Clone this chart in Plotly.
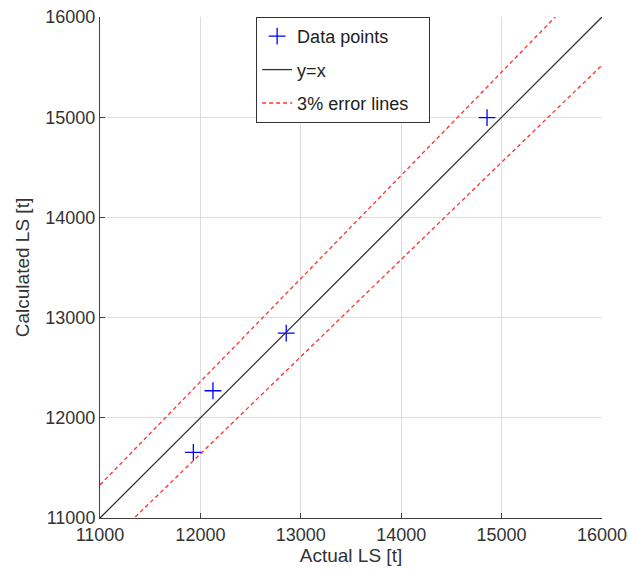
import plotly.graph_objects as go

actual = [11930, 12125, 12855, 14855]
calculated = [11655, 12270, 12845, 14995]
line_x = [11000, 16000]
err_pct = 0.03

fig = go.Figure()
fig.add_trace(go.Scatter(x=actual, y=calculated, mode="markers", name="Data points",
                         legendgroup="a",
                         marker=dict(symbol="cross-thin-open", size=12, color="blue",
                                     line=dict(width=1.3, color="blue"))))
fig.add_trace(go.Scatter(x=line_x, y=line_x, mode="lines", name="y=x", legendgroup="b",
                         line=dict(color="#333333", width=1.3)))
fig.add_trace(go.Scatter(x=line_x, y=[v * (1 + err_pct) for v in line_x], mode="lines",
                         name="3% error lines\u00a0\u00a0\u00a0", legendgroup="c",
                         line=dict(color="#ff3030", width=1.3, dash="4px,3px")))
fig.add_trace(go.Scatter(x=line_x, y=[v * (1 - err_pct) for v in line_x], mode="lines",
                         showlegend=False, legendgroup="c",
                         line=dict(color="#ff3030", width=1.3, dash="4px,3px")))

axis_common = dict(showgrid=True, gridcolor="#dedede", gridwidth=1, showline=True,
                   linecolor="#404040", linewidth=1, ticks="inside", ticklen=5,
                   tickcolor="#404040", tickfont=dict(size=18, color="#333333"),
                   zeroline=False, dtick=1000, tickformat="d", automargin=False)
fig.update_xaxes(range=[11000, 16000], title=dict(text="Actual LS [t]", font=dict(size=19, color="#333333"), standoff=2),
                 **axis_common)
fig.update_yaxes(range=[11000, 16000], title=dict(text="Calculated LS [t]", font=dict(size=19, color="#333333"), standoff=10),
                 **axis_common)

fig.update_layout(width=629, height=572, margin=dict(l=100, r=27, t=17, b=54),
                  plot_bgcolor="white", paper_bgcolor="white",
                  font=dict(family="Liberation Sans, Arial, sans-serif", color="#333333"),
                  legend=dict(x=0.311, y=1.0, xanchor="left", yanchor="top",
                              bgcolor="white", bordercolor="#333333", borderwidth=1,
                              font=dict(size=18, color="#222222"), itemwidth=30,
                              traceorder="grouped", tracegroupgap=7))

fig.write_html("out.html")
